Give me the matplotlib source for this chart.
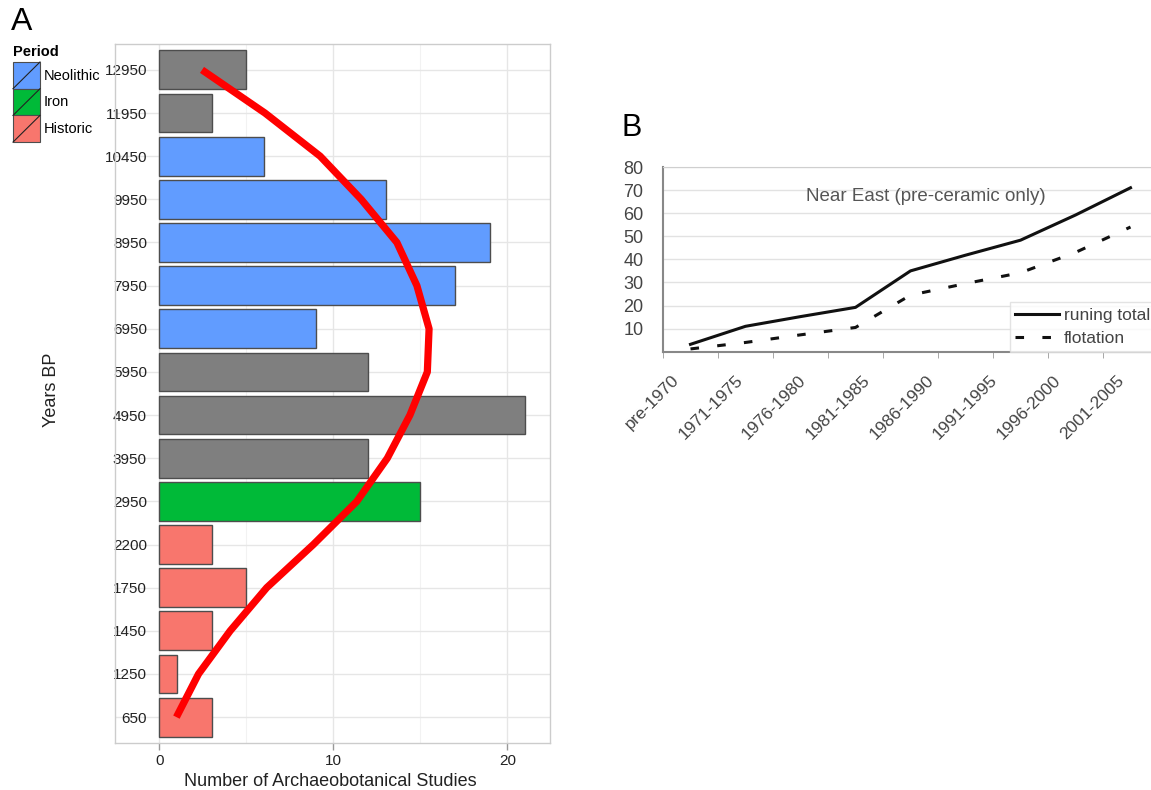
import numpy as np
import matplotlib.pyplot as plt
from matplotlib.patches import Rectangle
from matplotlib.lines import Line2D

plt.rcParams['font.family'] = ['Liberation Sans', 'DejaVu Sans']

# Panel A: studies per time bin
years_bp = ['12950', '11950', '10450', '9950', '8950', '7950', '6950', '5950',
            '4950', '3950', '2950', '2200', '1750', '1450', '1250', '650']
n_studies = [5, 3, 6, 13, 19, 17, 9, 12, 21, 12, 15, 3, 5, 3, 1, 3]
period = [None, None, 'Neolithic', 'Neolithic', 'Neolithic', 'Neolithic', 'Neolithic',
          None, None, None, 'Iron', 'Historic', 'Historic', 'Historic', 'Historic', 'Historic']
smooth_fit = [2.45, 6.07, 9.24, 11.6, 13.65, 14.8, 15.5, 15.4, 14.4, 13.1, 11.35,
              8.85, 6.17, 4.07, 2.25, 0.98]
period_names = ['Neolithic', 'Iron', 'Historic']
period_colors = {'Neolithic': '#619CFF', 'Iron': '#00BA38', 'Historic': '#F8766D', None: '#7F7F7F'}

# Panel B: cumulative counts, Near East
intervals = ['pre-1970', '1971-1975', '1976-1980', '1981-1985', '1986-1990',
             '1991-1995', '1996-2000', '2001-2005']
running_total = [3.2, 11, 15.2, 19.2, 35, 41.8, 48.3, 59.2, 71]
flotation = [1.2, 4, 7.3, 10.5, 24.5, 29.5, 34.2, 43, 54]

W, H = 1151, 790
fig = plt.figure(figsize=(W / 100, H / 100), dpi=100)


def fx(x):
    return x / W


def fy(y):
    return 1 - y / H


# ---- panel A ----
axA = fig.add_axes([fx(115), fy(743), 435 / W, 699 / H])
n = len(years_bp)
ypos = np.arange(n)[::-1]
axA.barh(ypos, n_studies, height=0.9, color=[period_colors[p] for p in period],
         edgecolor='#4d4d4d', linewidth=1, zorder=3)
axA.plot(smooth_fit, ypos, color='#FF0000', lw=5.2, solid_capstyle='butt', zorder=4)
axA.set_xlim(-2.55, 22.45)
axA.set_ylim(-0.6, n - 0.4)
axA.set_yticks(ypos)
axA.set_yticklabels(years_bp)
axA.set_xticks([0, 10, 20])
axA.set_xticks([5, 15], minor=True)
axA.grid(True, which='major', color='#e6e6e6', lw=1, zorder=0)
axA.grid(True, which='minor', axis='x', color='#f2f2f2', lw=0.8, zorder=0)
axA.tick_params(axis='y', length=0, pad=-23, labelsize=11, labelcolor='#222222')
axA.tick_params(axis='x', which='major', length=5, width=1, color='#999999',
                labelsize=11, labelcolor='#222222', pad=3)
axA.tick_params(axis='x', which='minor', length=0)
for s in axA.spines.values():
    s.set_color('#cccccc')
    s.set_linewidth(1)
for lab in axA.get_yticklabels():
    lab.set_zorder(5)

fig.text(fx(330), fy(781), 'Number of Archaeobotanical Studies', ha='center', va='center',
         fontsize=13, color='#222222')
fig.text(fx(52), fy(390), 'Years BP', ha='center', va='center', rotation=90,
         fontsize=13, color='#222222')
fig.text(fx(11), fy(22), 'A', ha='left', va='center', fontsize=23)

# period legend
fig.text(fx(13), fy(52), 'Period', ha='left', va='center', fontsize=10.5, fontweight='bold')
for i, name in enumerate(period_names):
    top = 62 + i * 26.7
    fig.add_artist(Rectangle((fx(13), fy(top + 26.7)), 27 / W, 26.7 / H,
                             transform=fig.transFigure, facecolor=period_colors[name],
                             edgecolor='#4d4d4d', lw=0.8))
    fig.add_artist(Line2D([fx(13), fx(40)], [fy(top + 26.7), fy(top)],
                          transform=fig.transFigure, color='#222222', lw=0.8))
    fig.text(fx(44), fy(top + 13.5), name, ha='left', va='center', fontsize=10.5)

# ---- panel B ----
axB = fig.add_axes([fx(663), fy(351.7), 495 / W, 184.7 / H])
xb = np.arange(len(running_total))
axB.plot(xb, running_total, color='#111111', lw=2.2, label='runing total')
axB.plot(xb, flotation, color='#111111', lw=2.2, linestyle=(0, (2.8, 6)), label='flotation')
axB.set_xlim(-0.5, len(running_total) - 0.5)
axB.set_ylim(0, 80)
axB.set_yticks(np.arange(10, 81, 10))
axB.grid(True, axis='y', color='#e2e2e2', lw=1)
axB.set_axisbelow(True)
axB.set_xticks(np.linspace(-0.16, 7.94, len(intervals)))
axB.set_xticklabels(intervals, rotation=45, ha='right', va='top')
axB.set_xticks(np.arange(-0.5, len(running_total)), minor=True)
axB.tick_params(axis='x', which='major', length=0, pad=15, labelsize=12.5, labelcolor='#444444')
axB.tick_params(axis='x', which='minor', length=4, color='#999999')
axB.tick_params(axis='y', length=0, pad=14, labelsize=13, labelcolor='#444444')
axB.spines['left'].set_color('#888888')
axB.spines['bottom'].set_color('#888888')
axB.spines['left'].set_linewidth(1.5)
axB.spines['bottom'].set_linewidth(1.5)
axB.spines['top'].set_color('#cfcfcf')
axB.spines['right'].set_visible(False)
axB.text(0.53, 0.838, 'Near East (pre-ceramic only)', transform=axB.transAxes,
         ha='center', va='center', fontsize=13.5, color='#555555')
leg = axB.legend(loc='lower left', bbox_to_anchor=(0.701, 0.0), fontsize=12.5,
                 frameon=True, fancybox=False, edgecolor='#dddddd', handlelength=2.5,
                 handletextpad=0.3, labelspacing=0.5, borderpad=0.3, borderaxespad=0)
for t in leg.get_texts():
    t.set_color('#444444')
fig.text(fx(622), fy(128), 'B', ha='left', va='center', fontsize=22)

fig.savefig('out.png', dpi=100)
